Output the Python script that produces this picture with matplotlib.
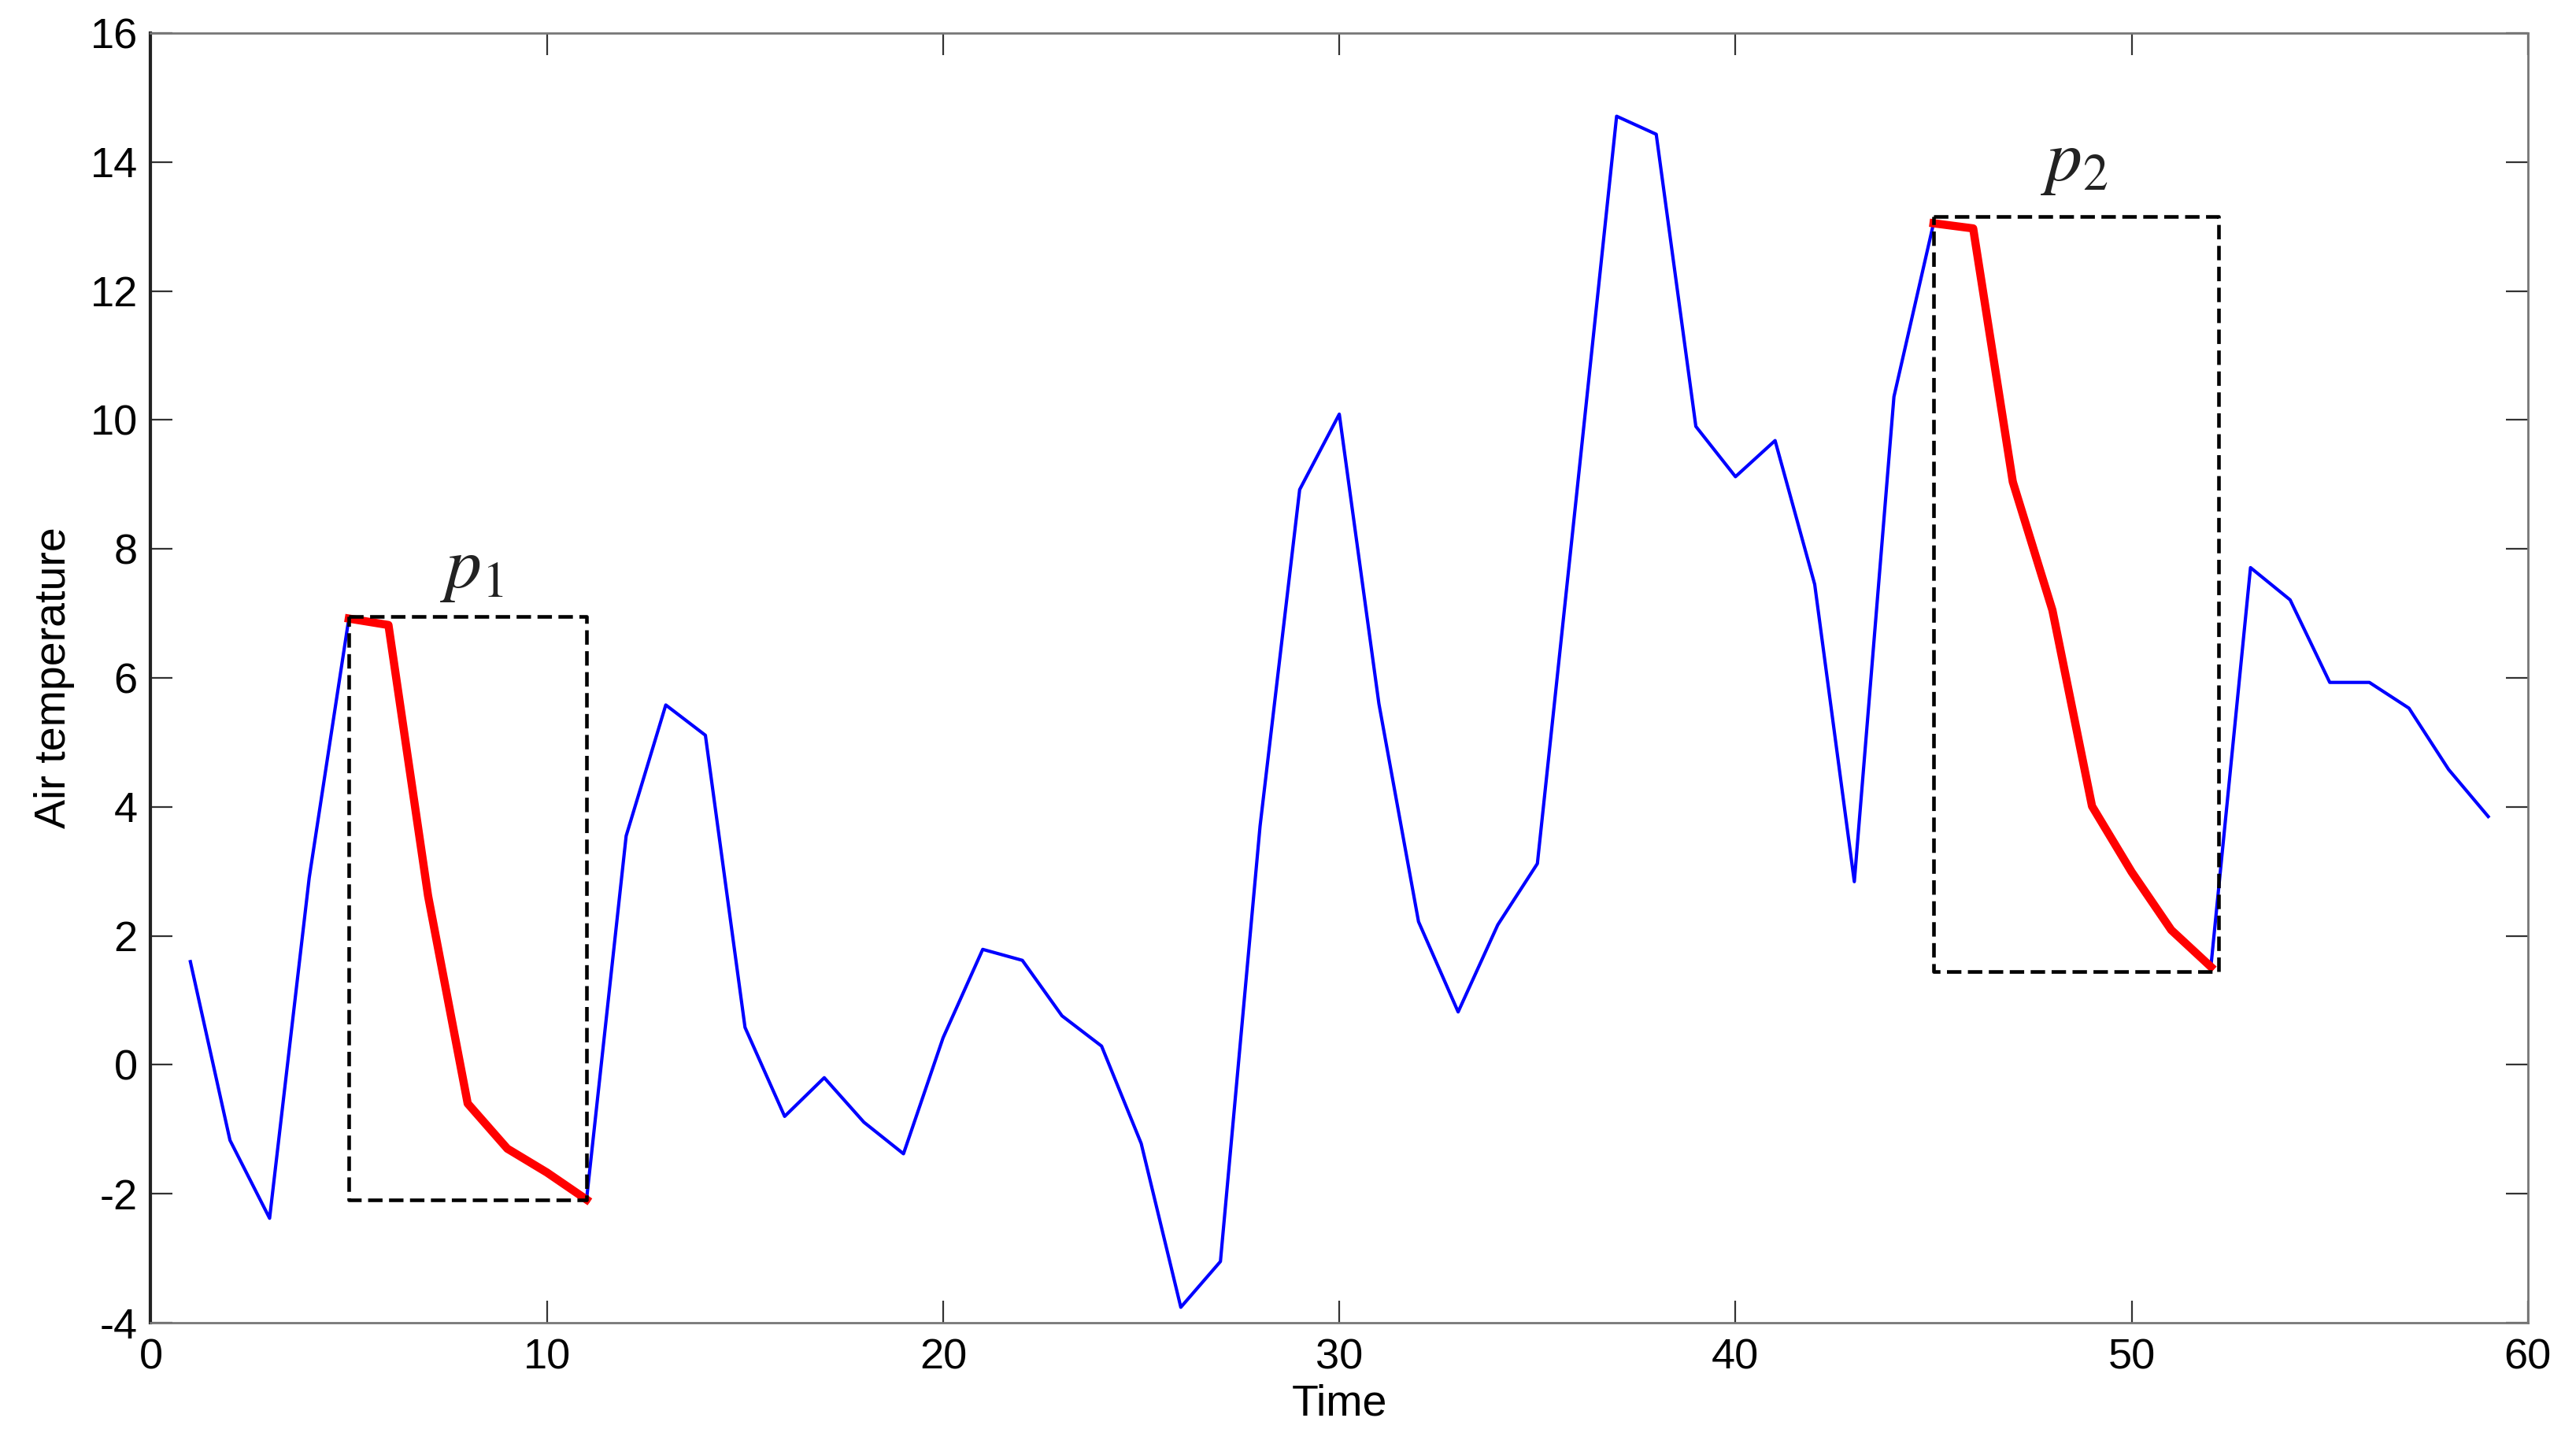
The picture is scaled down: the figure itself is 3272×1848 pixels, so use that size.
import matplotlib
matplotlib.use("Agg")
import matplotlib.pyplot as plt
import numpy as np

plt.rcParams['font.family'] = ['Liberation Sans', 'DejaVu Sans']
plt.rcParams['mathtext.fontset'] = 'stix'
plt.rcParams['axes.unicode_minus'] = False

# ---- data ----
time = list(range(1, 60))
air_temperature = [
    1.60, -1.17, -2.38, 2.90, 6.92, 6.82, 2.62, -0.60, -1.30, -1.67,
    -2.09, 3.55, 5.58, 5.11, 0.58, -0.80, -0.20, -0.89, -1.38, 0.42,
    1.79, 1.62, 0.76, 0.29, -1.22, -3.76, -3.05, 3.70, 8.92, 10.09,
    5.60, 2.22, 0.82, 2.17, 3.12, 8.90, 14.71, 14.43, 9.90, 9.12,
    9.68, 7.45, 2.84, 10.36, 13.05, 12.97, 9.04, 7.05, 4.01, 2.99,
    2.09, 1.52, 7.71, 7.21, 5.93, 5.93, 5.53, 4.58, 3.85,
]
p1_range = (5, 11)      # time indices of first highlighted pattern
p2_range = (45, 52)     # time indices of second highlighted pattern
p1_box_x = [5, 11]
p1_box_y = [-2.10, 6.95]
p2_box_x = [45, 52.2]
p2_box_y = [1.45, 13.15]
pattern_labels = [r'$p_1$', r'$p_2$']
label_pos_x = [8.1, 48.55]
label_pos_y = [7.67, 13.99]
xticks = [0, 10, 20, 30, 40, 50, 60]
yticks = [-4, -2, 0, 2, 4, 6, 8, 10, 12, 14, 16]

fig = plt.figure(figsize=(32.73, 18.48), dpi=100)
ax = fig.add_axes([0.0585, 0.0909, 0.9225, 0.8864])

t = np.array(time)
v = np.array(air_temperature)
ax.plot(t, v, color='#0000FF', lw=3.0, zorder=2)

for (a, b) in (p1_range, p2_range):
    m = (t >= a) & (t <= b)
    ax.plot(t[m], v[m], color='#FF0000', lw=7.5, marker='.', markersize=10,
            solid_joinstyle='round', zorder=3)

for bx, by in ((p1_box_x, p1_box_y), (p2_box_x, p2_box_y)):
    xs = [bx[0], bx[1], bx[1], bx[0], bx[0]]
    ys = [by[1], by[1], by[0], by[0], by[1]]
    ax.plot(xs, ys, color='black', lw=3.3, linestyle=(0, (4, 1.8)), zorder=4)

for lab, lx, ly in zip(pattern_labels, label_pos_x, label_pos_y):
    ax.text(lx, ly, lab, fontsize=66, ha='center', va='center', color='#222222')

ax.set_xlim(0, 60)
ax.set_ylim(-4, 16)
ax.set_xticks(xticks)
ax.set_yticks(yticks)
ax.tick_params(direction='in', length=20, width=1.6, labelsize=39,
               top=True, right=True, pad=12, color='#333333')
ax.tick_params(axis='x', pad=14)

for name, sp in ax.spines.items():
    sp.set_color('#777777')
    sp.set_linewidth(2.0)
ax.spines['left'].set_color('#222222')
ax.spines['left'].set_linewidth(3.0)

ax.set_xlabel('Time', fontsize=40, labelpad=6)
ax.set_ylabel('Air temperature', fontsize=40, labelpad=14)

fig.savefig('out.png', dpi=100, facecolor='white')
